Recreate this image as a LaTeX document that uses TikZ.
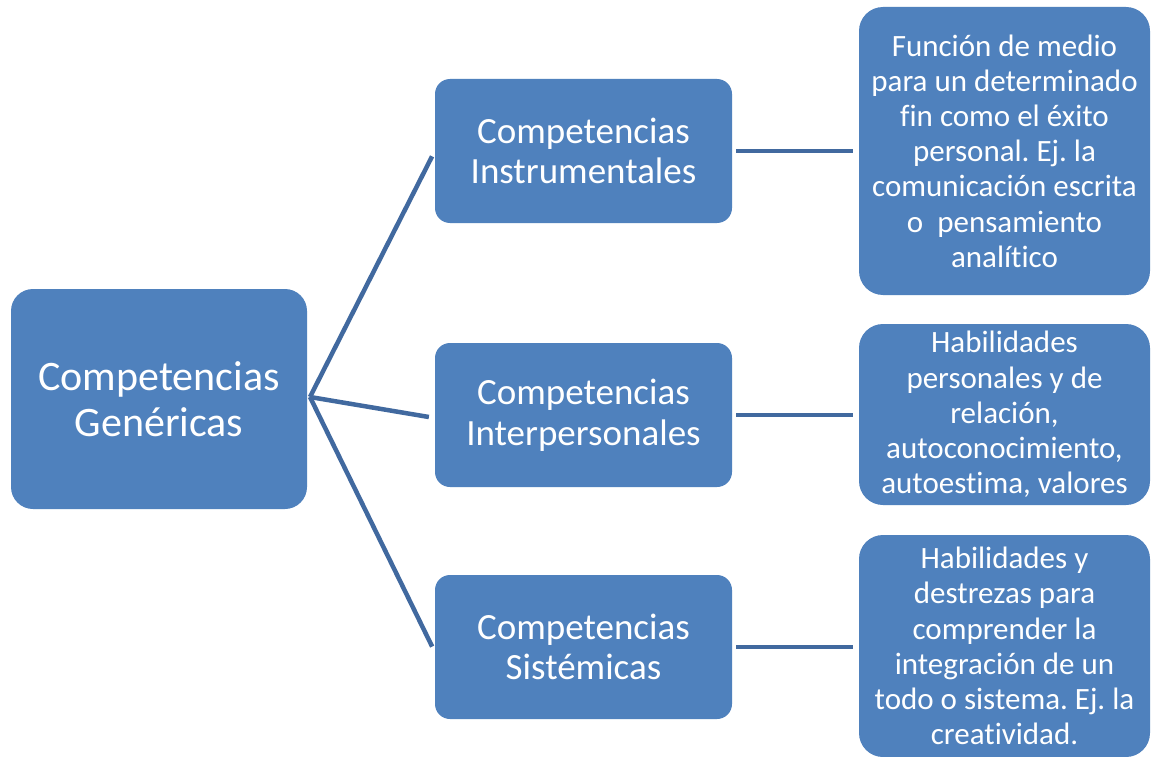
\documentclass[tikz,border=0pt]{standalone}
\usepackage{fontspec}
\setmainfont{Carlito}[Ligatures=NoCommon]
\frenchspacing
\definecolor{boxblue}{HTML}{4F81BD}
\definecolor{lineblue}{HTML}{41699F}
\tikzset{
  box/.style={fill=boxblue, text=white, align=center, inner sep=0pt},
  rootbox/.style={box, minimum width=296pt, minimum height=220pt, rounded corners=22pt,
    font=\fontsize{42}{46}\selectfont},
  midbox/.style={box, minimum width=297pt, minimum height=144pt, rounded corners=15pt,
    font=\fontsize{37}{40.5}\selectfont},
  leafbox/.style={box, minimum width=291pt, rounded corners=24pt,
    font=\fontsize{31}{35.2}\selectfont},
  conn/.style={draw=lineblue, line width=4.5pt}
}
\begin{document}
\begin{tikzpicture}[x=1pt,y=-1pt]
\useasboundingbox[fill=white] (0,0) rectangle (1151,757);
\node[rootbox] (root) at (159,399) {Competencias\\Genéricas};
\node[midbox] (m1) at (583.5,151) {Competencias\\Instrumentales};
\node[midbox] (m2) at (583.5,415) {Competencias\\Interpersonales};
\node[midbox] (m3) at (583.5,647) {Competencias\\Sistémicas};
\node[leafbox, minimum height=288pt] (r1) at (1004.5,151) {Función de medio\\para un determinado\\fin como el éxito\\personal. Ej. la\\comunicación escrita\\o\ \ pensamiento\\analítico};
\node[leafbox, minimum height=181pt] (r2) at (1004.5,414.5) {Habilidades\\personales y de\\relación,\\autoconocimiento,\\autoestima, valores};
\node[leafbox, minimum height=222pt] (r3) at (1004.5,646) {Habilidades y\\destrezas para\\comprender la\\integración de un\\todo o sistema. Ej. la\\creatividad.};
\coordinate (hub) at (310,397);
\draw[conn, shorten >=6pt] (hub) -- (m1.west);
\draw[conn, shorten >=6pt] (hub) -- ([yshift=-3pt]m2.west);
\draw[conn, shorten >=6pt] (hub) -- ([yshift=-5pt]m3.west);
\draw[conn, shorten <=4pt, shorten >=6pt] (m1.east) -- (m1.east -| r1.west);
\draw[conn, shorten <=4pt, shorten >=6pt] (m2.east) -- (m2.east -| r2.west);
\draw[conn, shorten <=4pt, shorten >=6pt] (m3.east) -- (m3.east -| r3.west);
\end{tikzpicture}
\end{document}
